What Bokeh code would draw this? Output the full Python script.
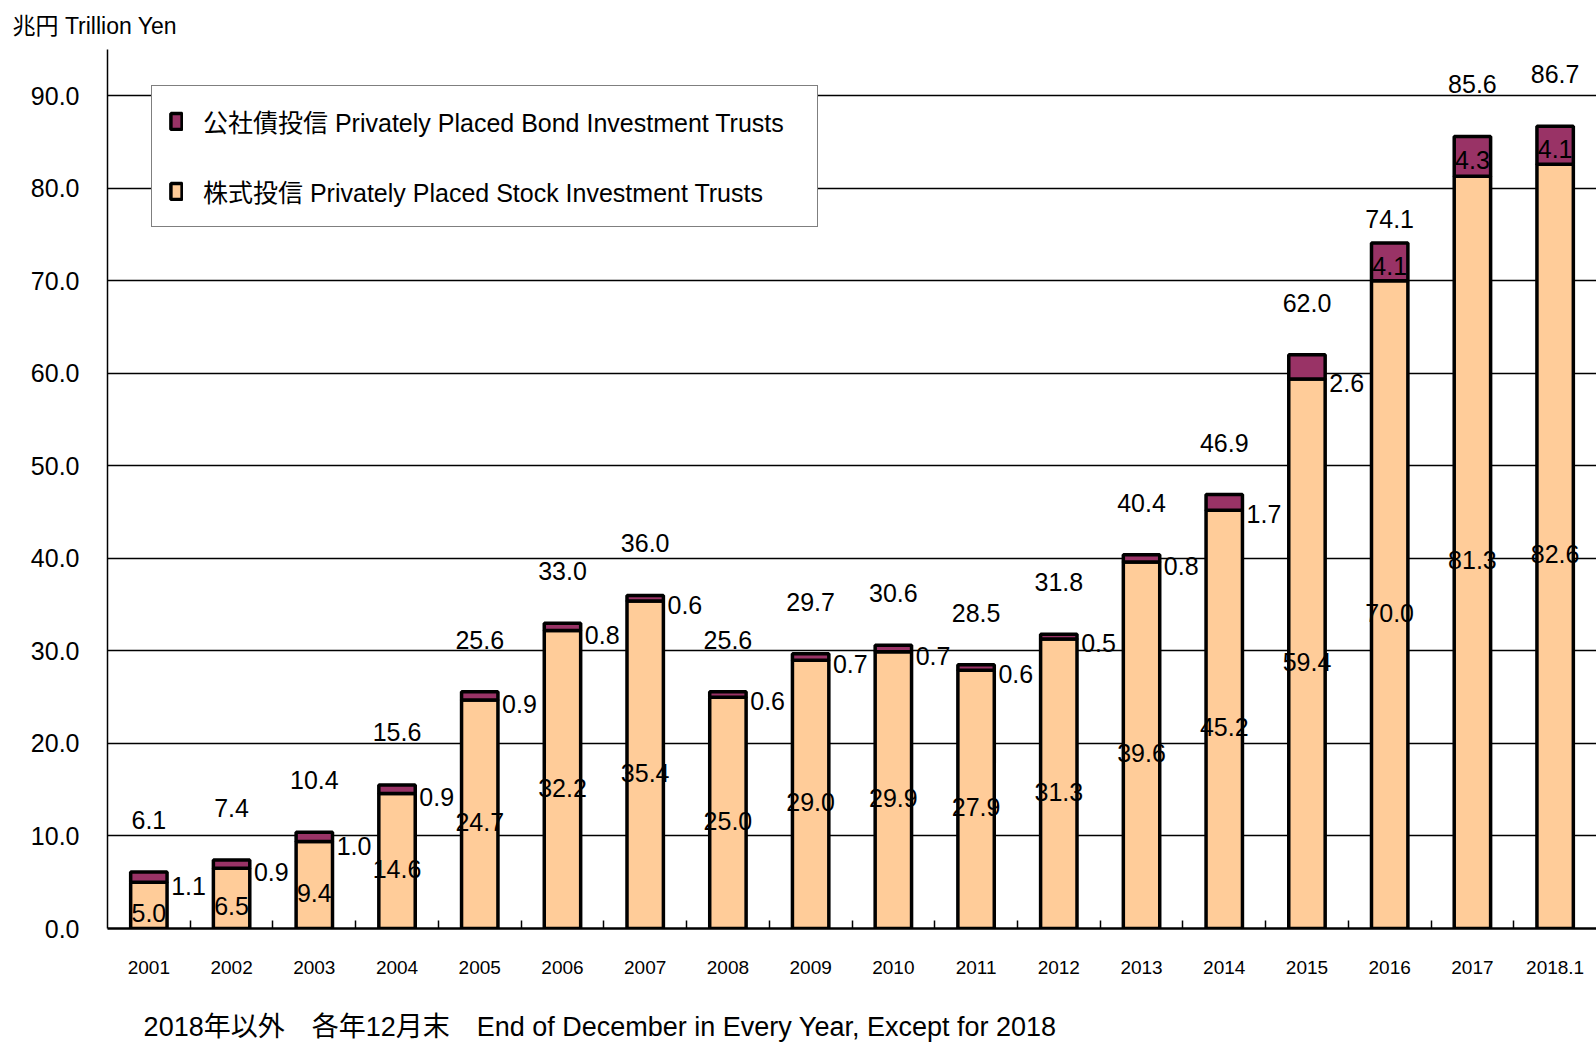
from bokeh.plotting import figure
from bokeh.models import (ColumnDataSource, FixedTicker, Legend, LegendItem, LinearAxis,
                          Range1d, NumeralTickFormatter)
from bokeh.core.properties import value
from bokeh.embed import file_html
from bokeh.resources import INLINE

years = ["2001", "2002", "2003", "2004", "2005", "2006", "2007", "2008", "2009",
         "2010", "2011", "2012", "2013", "2014", "2015", "2016", "2017", "2018.1"]
stock = [5.0, 6.5, 9.4, 14.6, 24.7, 32.2, 35.4, 25.0, 29.0, 29.9, 27.9, 31.3,
         39.6, 45.2, 59.4, 70.0, 81.3, 82.6]
bond = [1.1, 0.9, 1.0, 0.9, 0.9, 0.8, 0.6, 0.6, 0.7, 0.7, 0.6, 0.5, 0.8, 1.7,
        2.6, 4.1, 4.3, 4.1]
totals = [6.1, 7.4, 10.4, 15.6, 25.6, 33.0, 36.0, 25.6, 29.7, 30.6, 28.5, 31.8,
          40.4, 46.9, 62.0, 74.1, 85.6, 86.7]
y_ticks = [0, 10, 20, 30, 40, 50, 60, 70, 80, 90]

bond_label = "公社債投信 Privately Placed Bond Investment Trusts"
stock_label = "株式投信 Privately Placed Stock Investment Trusts"
y_title = "兆円 Trillion Yen"
note = "2018年以外\u3000各年12月末\u3000End of  December in Every Year, Except for 2018"

# layout tweak: vertical pixel offset of each total label above its bar
total_label_offset = [-52] * 15 + [-24, -52, -52]

FONT = "'Liberation Sans', 'Noto Sans CJK JP', sans-serif"
STOCK_COLOR = "#FFCC99"
BOND_COLOR = "#993366"

n = len(years)
xs = [i + 0.5 for i in range(n)]
stacked = [s + b for s, b in zip(stock, bond)]
inside = [b >= 4 for b in bond]
bond_x = [x if ins else x + 0.48 for x, ins in zip(xs, inside)]
bond_y = [s + b / 2 if ins else s for s, b, ins in zip(stock, bond, inside)]

src = ColumnDataSource(dict(
    x=xs, stock=stock, bond=bond, stacked=stacked, totals=totals,
    stock_mid=[s / 2 for s in stock],
    stock_txt=[f"{v:.1f}" for v in stock],
    bond_txt=[f"{v:.1f}" for v in bond],
    tot_txt=[f"{v:.1f}" for v in totals],
    tot_off=total_label_offset,
    bond_x=bond_x, bond_y=bond_y,
))

p = figure(width=1596, height=1048, x_range=Range1d(0, n), y_range=Range1d(0, 95),
           output_backend="svg", toolbar_location=None,
           min_border_left=107, min_border_right=0, min_border_top=48,
           min_border_bottom=120)
p.outline_line_color = None
p.background_fill_color = "white"
p.border_fill_color = "white"

# unit title at top-left
p.title.text = y_title
p.title.align = "left"
p.title.offset = -95
p.title.standoff = 21
p.title.text_font = FONT
p.title.text_font_size = "23px"
p.title.text_font_style = "normal"
p.title.text_color = "black"

# axes
p.xaxis.ticker = FixedTicker(ticks=xs, minor_ticks=list(range(1, n)))
p.xaxis.major_label_overrides = {x: y for x, y in zip(xs, years)}
p.xaxis.major_tick_in = 0
p.xaxis.major_tick_out = 0
p.xaxis.minor_tick_in = 8
p.xaxis.minor_tick_out = 0
p.xaxis.minor_tick_line_color = "black"
p.xaxis.minor_tick_line_width = 1.5
p.xaxis.axis_line_color = "black"
p.xaxis.axis_line_width = 2.5
p.xaxis.major_label_text_font = FONT
p.xaxis.major_label_text_font_size = "19px"
p.xaxis.major_label_text_color = "black"
p.xaxis.major_label_standoff = 32

p.yaxis.ticker = FixedTicker(ticks=y_ticks, minor_ticks=[])
p.yaxis.formatter = NumeralTickFormatter(format="0.0")
p.yaxis.major_tick_in = 0
p.yaxis.major_tick_out = 0
p.yaxis.axis_line_color = "black"
p.yaxis.axis_line_width = 1.5
p.yaxis.major_label_text_font = FONT
p.yaxis.major_label_text_font_size = "25px"
p.yaxis.major_label_text_color = "black"
p.yaxis.major_label_standoff = 28

p.xgrid.visible = False
p.ygrid.ticker = FixedTicker(ticks=y_ticks[1:])
p.ygrid.grid_line_color = "black"
p.ygrid.grid_line_width = 1.3

# footnote as a bare second axis below the category axis
note_x = 6.0
note_axis = LinearAxis(ticker=FixedTicker(ticks=[note_x], minor_ticks=[]),
                       major_label_overrides={note_x: note},
                       axis_line_color=None, major_tick_line_color=None,
                       minor_tick_line_color=None, major_tick_in=0, major_tick_out=0,
                       major_label_standoff=35, major_label_text_font=FONT,
                       major_label_text_font_size="27px",
                       major_label_text_color="black")
p.add_layout(note_axis, "below")

# bars
r_stock = p.vbar(x="x", bottom=0, top="stock", width=0.44, source=src,
                 fill_color=STOCK_COLOR, line_color="black", line_width=3.5)
r_bond = p.vbar(x="x", bottom="stock", top="stacked", width=0.44, source=src,
                fill_color=BOND_COLOR, line_color="black", line_width=3.5)

# labels
p.text(x="x", y="stock_mid", text="stock_txt", source=src, text_align="center",
       text_baseline="middle", text_font=value(FONT), text_font_size="25px",
       text_color="black", y_offset=8)
p.text(x="bond_x", y="bond_y", text="bond_txt", source=src, text_align="center",
       text_baseline="middle", text_font=value(FONT), text_font_size="25px",
       text_color="black", y_offset=4)
p.text(x="x", y="totals", text="tot_txt", source=src, text_align="center",
       text_baseline="middle", text_font=value(FONT), text_font_size="25px",
       text_color="black", y_offset="tot_off")

legend = Legend(items=[LegendItem(label=bond_label, renderers=[r_bond]),
                       LegendItem(label=stock_label, renderers=[r_stock])],
                location=(44, 701), orientation="vertical",
                border_line_color="black", border_line_width=1.5,
                background_fill_color="white", background_fill_alpha=1.0,
                padding=17, spacing=34, margin=0, label_height=30,
                label_width=597,
                glyph_height=20, glyph_width=14, label_standoff=20,
                label_text_font=FONT, label_text_font_size="25px",
                label_text_color="black")
p.add_layout(legend)

open("out.html", "w").write(file_html(p, INLINE))
